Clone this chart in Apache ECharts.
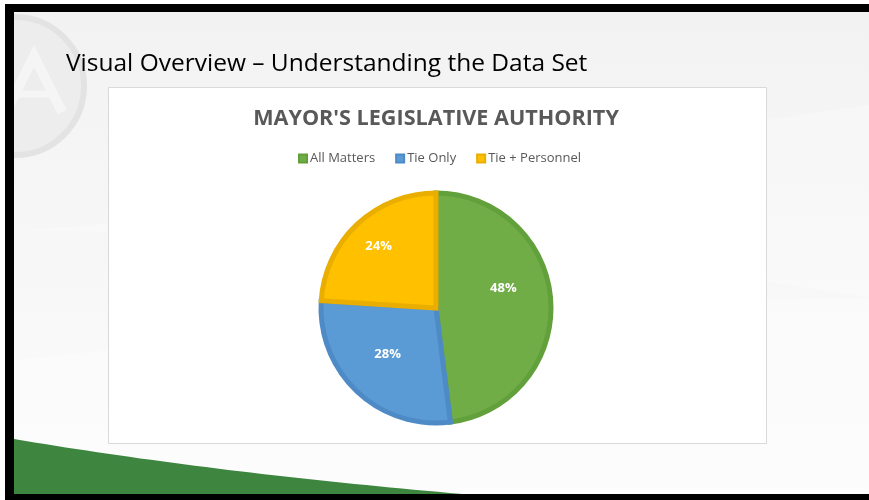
<!DOCTYPE html>
<html>
<head>
<meta charset="utf-8">
<title>Mayor's Legislative Authority</title>
<script src="https://cdn.jsdelivr.net/npm/echarts@6/dist/echarts.min.js"></script>
<style>
  html, body { margin: 0; padding: 0; background: #ffffff; }
  #chart { width: 869px; height: 500px; }
</style>
</head>
<body>
<div id="chart"></div>
<script>
// Share of municipalities by the mayor's legislative authority
const categories = ['All Matters', 'Tie Only', 'Tie + Personnel'];
const shares = [48, 28, 24];

const sliceColors = ['#70ad47', '#5b9bd5', '#ffc000'];
const sliceBorders = ['#62a03c', '#4e8ac6', '#e9ae00'];
// small nudges so the percentage labels sit where the slide puts them
const labelNudges = [[7, -16], [-7, 2], [-16, -18]];

const FONT = '"Open Sans", "Noto Sans", sans-serif';

// sample a cubic bezier into polygon points for the decorative shapes
function cubic(p0, p1, p2, p3, steps) {
  const pts = [];
  for (let i = 0; i <= steps; i++) {
    const t = i / steps, u = 1 - t;
    pts.push([
      u * u * u * p0[0] + 3 * u * u * t * p1[0] + 3 * u * t * t * p2[0] + t * t * t * p3[0],
      u * u * u * p0[1] + 3 * u * u * t * p1[1] + 3 * u * t * t * p2[1] + t * t * t * p3[1]
    ]);
  }
  return pts;
}

const chart = echarts.init(document.getElementById('chart'), null, { renderer: 'canvas' });

const midBand = cubic([14, 230], [250, 222], [600, 140], [869, 105], 40)
  .concat(cubic([869, 298], [700, 268], [400, 236], [14, 230], 40));
const lowBand = cubic([14, 360], [300, 330], [600, 300], [869, 298], 40)
  .concat([[869, 494], [14, 494]]);
const swoosh = cubic([14, 439], [150, 462], [300, 480], [462, 494], 40).concat([[14, 494]]);

const slideGraphics = [
  // slide background
  {
    type: 'rect', shape: { x: 0, y: 0, width: 869, height: 500 }, silent: true,
    style: {
      fill: new echarts.graphic.LinearGradient(0, 0, 0, 1, [
        { offset: 0, color: '#f2f2f2' },
        { offset: 1, color: '#fcfcfc' }
      ])
    }
  },
  // soft light bands across the background
  { type: 'polygon', silent: true, shape: { points: midBand }, style: { fill: 'rgba(255,255,255,0.25)' } },
  { type: 'polygon', silent: true, shape: { points: lowBand }, style: { fill: 'rgba(255,255,255,0.3)' } },
  // faint logo watermark
  {
    type: 'circle', silent: true,
    shape: { cx: 15, cy: 86, r: 69 },
    style: { fill: '#ededed', stroke: '#e3e3e3', lineWidth: 6 }
  },
  {
    type: 'polyline', silent: true,
    shape: { points: [[10, 104], [34, 56], [62, 112]] },
    style: { stroke: '#f5f5f5', lineWidth: 10, fill: null }
  },
  {
    type: 'line', silent: true,
    shape: { x1: 10, y1: 94, x2: 54, y2: 94 },
    style: { stroke: '#f5f5f5', lineWidth: 7 }
  },
  // green swoosh at the bottom left
  { type: 'polygon', silent: true, shape: { points: swoosh }, style: { fill: '#3e863f' } },
  // slide frame drawn over the background edges
  { type: 'rect', silent: true, shape: { x: 0, y: 0, width: 869, height: 4 }, style: { fill: '#ffffff' } },
  { type: 'rect', silent: true, shape: { x: 0, y: 0, width: 5, height: 500 }, style: { fill: '#ffffff' } },
  { type: 'rect', silent: true, shape: { x: 5, y: 4, width: 864, height: 8 }, style: { fill: '#000000' } },
  { type: 'rect', silent: true, shape: { x: 5, y: 4, width: 9, height: 496 }, style: { fill: '#000000' } },
  { type: 'rect', silent: true, shape: { x: 5, y: 494, width: 864, height: 6 }, style: { fill: '#000000' } },
  // slide heading
  {
    type: 'text', silent: true, x: 66, y: 64,
    style: {
      text: 'Visual Overview – Understanding the Data Set',
      font: '500 24.5px ' + FONT, fill: '#000000', textVerticalAlign: 'middle'
    }
  },
  // chart area box
  {
    type: 'rect', silent: true,
    shape: { x: 108.5, y: 87.5, width: 658, height: 356 },
    style: { fill: '#ffffff', stroke: '#d9d9d9', lineWidth: 1 }
  }
];

const option = {
  animation: false,
  backgroundColor: 'transparent',
  graphic: { elements: slideGraphics },
  title: {
    text: "MAYOR'S LEGISLATIVE AUTHORITY",
    left: 431, top: 103, textAlign: 'center',
    textStyle: { fontFamily: FONT, fontWeight: 'bold', fontSize: 21.6, color: '#595959' }
  },
  legend: {
    data: categories,
    left: 293, top: 147,
    icon: 'rect', itemWidth: 8, itemHeight: 8, itemGap: 20,
    textStyle: { fontFamily: FONT, fontSize: 13, color: '#595959', padding: [0, 0, 0, -2] }
  },
  series: [{
    type: 'pie',
    center: [436, 308],
    radius: 115,
    startAngle: 90,
    clockwise: true,
    silent: true,
    label: {
      show: true, position: 'inside',
      formatter: p => p.value + '%',
      fontFamily: FONT, fontWeight: 'bold', fontSize: 13, color: '#ffffff'
    },
    labelLine: { show: false },
    data: categories.map((name, i) => ({
      name,
      value: shares[i],
      itemStyle: { color: sliceColors[i], borderColor: sliceBorders[i], borderWidth: 5, borderJoin: 'miter' },
      label: { offset: labelNudges[i] }
    }))
  }]
};

chart.setOption(option);
</script>
</body>
</html>
